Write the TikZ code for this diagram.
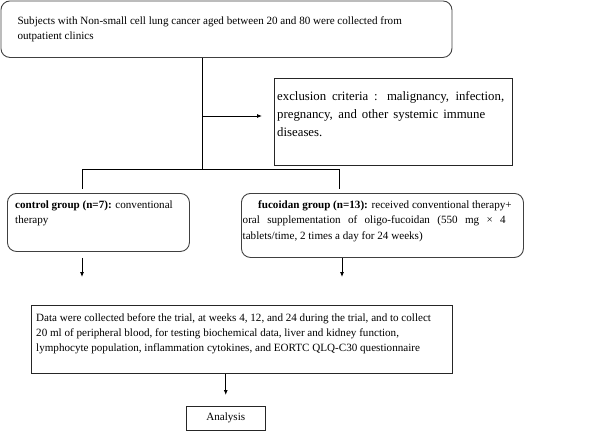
\documentclass[tikz,border=0pt]{standalone}
\usepackage{fontspec}
\setmainfont{Liberation Serif}
\usetikzlibrary{arrows.meta}
\begin{document}
\begin{tikzpicture}[x=1pt,y=-1pt,
  boxr/.style={draw=black!75, line width=0.9pt, rounded corners=9pt, inner sep=0pt, anchor=north west},
  boxs/.style={draw=black!85, line width=1pt, inner sep=0pt, anchor=north west},
  txt/.style={inner sep=0pt, anchor=base west, font=\fontsize{11.1}{15}\selectfont},
  conn/.style={line width=0.8pt, draw=black},
  arr/.style={conn, -{Latex[length=5pt,width=4pt]}}]
\useasboundingbox (0,0) rectangle (591,431);

% boxes
\node[boxr, minimum width=451pt, minimum height=56.5pt] (top) at (0.5,0.5) {};
\node[boxs, minimum width=238pt, minimum height=87pt] (excl) at (274,78) {};
\node[boxr, minimum width=182pt, minimum height=58pt] (ctrl) at (7,193) {};
\node[boxr, minimum width=282pt, minimum height=64pt] (fuc) at (241,193) {};
\node[boxs, minimum width=421pt, minimum height=68pt] (data) at (31,305) {};
\node[boxs, minimum width=78.5pt, minimum height=23.5pt, anchor=north west,
      font=\fontsize{11.1}{15}\selectfont] (an) at (186,406) {Analysis};

% texts
\node[txt] (toptx) at (17.3,24) {\parbox[t]{430pt}{\raggedright
  Subjects with Non-small cell lung cancer aged between 20 and 80 were collected from\\
  outpatient clinics}};
\node[txt, font=\fontsize{12.8}{18}\selectfont] (excltx) at (277,100) {\parbox[t]{232pt}{\raggedright
  \makebox[227pt][s]{exclusion criteria : malignancy, infection,}\\
  \makebox[208pt][s]{pregnancy, and other systemic immune}\\
  diseases.}};
\node[txt, font=\fontsize{11.1}{15.5}\selectfont] (ctrltx) at (15,208) {\parbox[t]{172pt}{\raggedright
  \textbf{control group (n=7):} conventional\\
  therapy}};
\node[txt, font=\fontsize{11.1}{15.7}\selectfont] (fuctx) at (242.5,208) {\parbox[t]{278pt}{\raggedright
  \hspace*{15.5pt}\textbf{fucoidan group (n=13):} received conventional therapy+\\
  \makebox[263pt][s]{oral supplementation of oligo-fucoidan (550 mg × 4}\\
  tablets/time, 2 times a day for 24 weeks)}};
\node[txt, font=\fontsize{11.1}{15.3}\selectfont] (datatx) at (36,321) {\parbox[t]{412pt}{\raggedright
  Data were collected before the trial, at weeks 4, 12, and 24 during the trial, and to collect\\
  20 ml of peripheral blood, for testing biochemical data, liver and kidney function,\\
  lymphocyte population, inflammation cytokines, and EORTC QLQ-C30 questionnaire}};

% connector points
\coordinate (j1) at (202,169);
\coordinate (ex) at (262,116);
\coordinate (bl) at (82,169);
\coordinate (br) at (339,169);
\coordinate (ca) at (82,277);
\coordinate (fa) at (342,277);

% connectors
\draw[conn] (top.south -| j1) -- (j1);
\draw[arr] (j1 |- ex) -- (ex);
\draw[conn] ([yshift=4pt]ctrl.north -| bl) -- (bl) -- (br) -- ([yshift=4pt]fuc.north -| br);
\draw[arr] ([yshift=-6pt]ctrl.south -| ca) -- (ca);
\draw[arr] ([yshift=-0.5pt]fuc.south -| fa) -- (fa);
\draw[arr] (data.south -| an) -- ([yshift=11pt]an.north);
\end{tikzpicture}
\end{document}
